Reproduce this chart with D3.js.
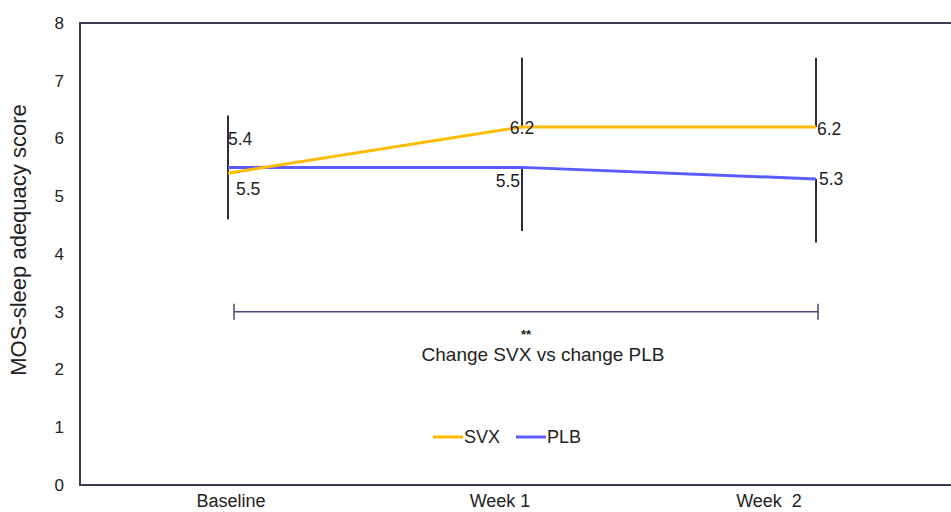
<!DOCTYPE html>
<html>
<head>
<meta charset="utf-8">
<script src="https://cdn.jsdelivr.net/npm/d3@7"></script>
<style>
  body { margin: 0; background: #fff; }
  svg { display: block; font-family: "Liberation Sans", Arial, sans-serif; }
  .xlab { white-space: pre; }
</style>
</head>
<body>
<div id="viz"></div>
<script>
// data
var categories = ["Baseline", "Week 1", "Week  2"];
var svx = [5.4, 6.2, 6.2];
var plb = [5.5, 5.5, 5.3];
var svxErr = [1.0, 1.2, 1.2];   // drawn upward
var plbErr = [0.9, 1.1, 1.1];   // drawn downward
var yTicks = [0, 1, 2, 3, 4, 5, 6, 7, 8];
var bracketValue = 3;

var width = 951, height = 512;
var frame = {left: 80, top: 23, bottom: 485};

var svg = d3.select("#viz").append("svg")
    .attr("width", width)
    .attr("height", height);

var y = d3.scaleLinear().domain([0, 8]).range([frame.bottom, frame.top]);
var x = d3.scalePoint().domain(categories).range([228, 816]);
// category labels sit a bit left of the data points in the original
var xLabel = d3.scalePoint().domain(categories).range([231, 769]);

var frameColor = "#3b3d52";
var barColor = "#2c2c3c";
var svxColor = "#ffbb00";
var plbColor = "#5a5cff";

// frame (no right edge, it is cut off)
svg.append("path")
    .attr("d", "M" + width + "," + frame.top + "H" + frame.left + "V" + frame.bottom + "H" + width)
    .attr("fill", "none")
    .attr("stroke", frameColor)
    .attr("stroke-width", 2);

// y tick labels
svg.selectAll(".ytick")
    .data(yTicks)
  .enter().append("text")
    .attr("class", "ytick")
    .attr("x", 64)
    .attr("y", function(d) { return y(d); })
    .attr("dy", "0.35em")
    .attr("text-anchor", "end")
    .attr("font-size", 17)
    .attr("fill", "#222")
    .text(function(d) { return d; });

svg.append("text")
    .attr("transform", "translate(26," + 240 + ")rotate(-90)")
    .attr("text-anchor", "middle")
    .attr("font-size", 22)
    .attr("fill", "#222")
    .text("MOS-sleep adequacy score");

// x labels
svg.selectAll(".xlab")
    .data(categories)
  .enter().append("text")
    .attr("class", "xlab")
    .attr("x", function(d) { return xLabel(d); })
    .attr("y", 507)
    .attr("text-anchor", "middle")
    .attr("font-size", 18)
    .attr("fill", "#222")
    .text(function(d) { return d; });

// error bars: SVX up, PLB down
svg.selectAll(".errup")
    .data(categories)
  .enter().append("line")
    .attr("x1", function(d) { return x(d); })
    .attr("x2", function(d) { return x(d); })
    .attr("y1", function(d, i) { return y(svx[i]); })
    .attr("y2", function(d, i) { return y(svx[i] + svxErr[i]); })
    .attr("stroke", barColor)
    .attr("stroke-width", 2);

svg.selectAll(".errdown")
    .data(categories)
  .enter().append("line")
    .attr("x1", function(d) { return x(d); })
    .attr("x2", function(d) { return x(d); })
    .attr("y1", function(d, i) { return y(plb[i]); })
    .attr("y2", function(d, i) { return y(plb[i] - plbErr[i]); })
    .attr("stroke", barColor)
    .attr("stroke-width", 2);

var line = d3.line()
    .x(function(d, i) { return x(categories[i]); })
    .y(function(d) { return y(d); });

svg.append("path")
    .datum(plb)
    .attr("d", line)
    .attr("fill", "none")
    .attr("stroke", plbColor)
    .attr("stroke-width", 3);

svg.append("path")
    .datum(svx)
    .attr("d", line)
    .attr("fill", "none")
    .attr("stroke", svxColor)
    .attr("stroke-width", 3);

// value labels, placed like the original
var svxPlace = [{a: "start", dx: 0, dy: -34}, {a: "middle", dx: 0, dy: 1}, {a: "start", dx: 1, dy: 2}];
var plbPlace = [{a: "start", dx: 8, dy: 21}, {a: "end", dx: -2, dy: 13}, {a: "start", dx: 3, dy: 0}];

function valueLabels(vals, place) {
  svg.selectAll(null)
      .data(vals)
    .enter().append("text")
      .attr("x", function(d, i) { return x(categories[i]) + place[i].dx; })
      .attr("y", function(d, i) { return y(d) + place[i].dy; })
      .attr("dy", "0.35em")
      .attr("text-anchor", function(d, i) { return place[i].a; })
      .attr("font-size", 17.5)
      .attr("fill", "#222")
      .text(function(d) { return d.toFixed(1); });
}
valueLabels(svx, svxPlace);
valueLabels(plb, plbPlace);

// significance bracket
var bx1 = x(categories[0]) + 6, bx2 = x(categories[2]) + 2, by = y(bracketValue);
svg.append("line")
    .attr("x1", bx1).attr("x2", bx2).attr("y1", by).attr("y2", by)
    .attr("stroke", "#4a4a7a").attr("stroke-width", 1.5);
[bx1, bx2].forEach(function(bx) {
  svg.append("line")
      .attr("x1", bx).attr("x2", bx).attr("y1", by - 8).attr("y2", by + 8)
      .attr("stroke", "#4a4a7a").attr("stroke-width", 1.5);
});
svg.append("text")
    .attr("x", 526).attr("y", by + 27)
    .attr("text-anchor", "middle")
    .attr("font-size", 13)
    .attr("font-weight", "bold")
    .attr("fill", "#222")
    .text("**");
svg.append("text")
    .attr("x", 543).attr("y", by + 49)
    .attr("text-anchor", "middle")
    .attr("font-size", 19)
    .attr("fill", "#222")
    .text("Change SVX vs change PLB");

// legend
var legend = [{name: "SVX", color: svxColor, x: 433}, {name: "PLB", color: plbColor, x: 516}];
var lg = svg.selectAll(".leg")
    .data(legend)
  .enter().append("g")
    .attr("transform", function(d) { return "translate(" + d.x + ",437)"; });
lg.append("line")
    .attr("x2", 30)
    .attr("stroke", function(d) { return d.color; })
    .attr("stroke-width", 3);
lg.append("text")
    .attr("x", 31)
    .attr("dy", "0.35em")
    .attr("font-size", 18)
    .attr("fill", "#222")
    .text(function(d) { return d.name; });
</script>
</body>
</html>
